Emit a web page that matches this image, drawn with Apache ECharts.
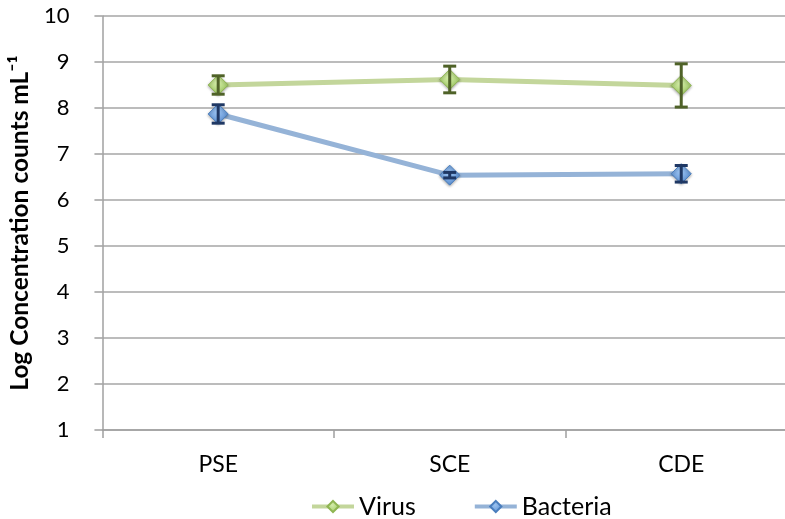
<!DOCTYPE html>
<html><head><meta charset="utf-8">
<script src="https://cdn.jsdelivr.net/npm/echarts@6/dist/echarts.min.js"></script>
<style>html,body{margin:0;padding:0;background:#fff;overflow:hidden;width:785px;height:519px}#c{width:800px;height:519px}</style>
</head><body><div id="c"></div>
<script>
const categories = ['PSE', 'SCE', 'CDE'];
const virus = [8.5, 8.62, 8.49];
const virusErr = [0.2, 0.29, 0.47];
const bacteria = [7.87, 6.54, 6.57];
const bacteriaErr = [0.2, 0.06, 0.18];
const yTicks = [1, 2, 3, 4, 5, 6, 7, 8, 9, 10];

function errSeries(vals, errs, color) {
  return {
    type: 'custom', z: 5, silent: true,
    data: vals.map((v, i) => [i, v - errs[i], v + errs[i]]),
    renderItem: function (params, api) {
      const lo = api.coord([api.value(0), api.value(1)]);
      const hi = api.coord([api.value(0), api.value(2)]);
      const w = 6.5;
      const st = { stroke: color, lineWidth: 3 };
      return { type: 'group', children: [
        { type: 'line', shape: { x1: lo[0], y1: lo[1], x2: hi[0], y2: hi[1] }, style: st },
        { type: 'line', shape: { x1: lo[0] - w, y1: lo[1], x2: lo[0] + w, y2: lo[1] }, style: st },
        { type: 'line', shape: { x1: hi[0] - w, y1: hi[1], x2: hi[0] + w, y2: hi[1] }, style: st }
      ]};
    }
  };
}

function grad(c1, c2) {
  return new echarts.graphic.RadialGradient(0.45, 0.4, 0.7, [
    { offset: 0, color: c1 }, { offset: 1, color: c2 }
  ]);
}

const chart = echarts.init(document.getElementById('c'));
const font = 'Lato, sans-serif';
chart.setOption({
  animation: false,
  textStyle: { fontFamily: font },
  grid: { left: 101, top: 16, width: 696, height: 414, containLabel: false },
  legend: {
    top: 489, left: 305, itemGap: 57, itemWidth: 42, itemHeight: 14, itemTextGap: 4,
    lineStyle: { width: 4 },
    textStyle: { fontSize: 25, color: '#000', fontFamily: font },
    data: ['Virus', 'Bacteria']
  },
  xAxis: {
    type: 'category', data: categories, boundaryGap: true,
    axisLine: { lineStyle: { color: '#a0a0a0', width: 1.5 } },
    axisTick: { show: true, length: 8, lineStyle: { color: '#a0a0a0', width: 1.5 } },
    axisLabel: { fontSize: 23, color: '#000', margin: 23, fontFamily: font }
  },
  yAxis: {
    type: 'value', min: 1, max: 10, interval: 1,
    name: 'Log Concentration counts mL⁻¹',
    nameLocation: 'middle', nameGap: 65, nameRotate: 90,
    nameTextStyle: { fontSize: 24.5, fontWeight: 'bold', color: '#000', fontFamily: font },
    axisLine: { show: true, lineStyle: { color: '#a0a0a0', width: 1.5 } },
    axisTick: { show: true, inside: false, length: 8, lineStyle: { color: '#a0a0a0', width: 1.5 } },
    axisLabel: { fontSize: 22, color: '#000', margin: 33, fontFamily: font },
    splitLine: { lineStyle: { color: '#a6a6a6', width: 1.5 } }
  },
  series: [
    {
      name: 'Virus', type: 'line', data: virus, z: 3,
      symbol: 'diamond', symbolSize: 20,
      lineStyle: { color: '#c3d69b', width: 5 },
      itemStyle: { color: grad('#d4ecaa', '#94c354'), borderColor: '#8fb552', borderWidth: 1, shadowBlur: 3, shadowColor: 'rgba(0,0,0,0.35)', shadowOffsetY: 1 }
    },
    {
      name: 'Bacteria', type: 'line', data: bacteria, z: 3,
      symbol: 'diamond', symbolSize: 20,
      lineStyle: { color: '#95b3d7', width: 5 },
      itemStyle: { color: grad('#9cc3f0', '#4f87cf'), borderColor: '#4a7ebd', borderWidth: 1, shadowBlur: 3, shadowColor: 'rgba(0,0,0,0.35)', shadowOffsetY: 1 }
    },
    errSeries(virus, virusErr, '#4f6228'),
    errSeries(bacteria, bacteriaErr, '#1f3864')
  ]
});
</script></body></html>
